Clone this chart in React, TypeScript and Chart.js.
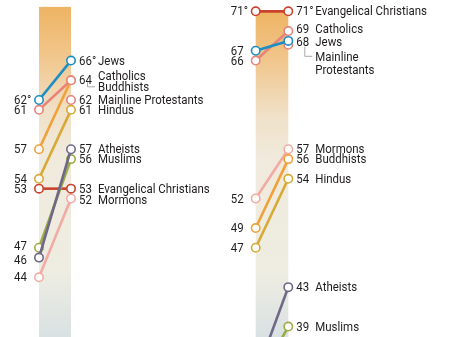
import React, { useEffect, useRef } from "react";
import { Chart, registerables } from "chart.js";

Chart.register(...registerables);

const YEARS = [2014, 2017];
const GROUPS = [
  "Jews",
  "Catholics",
  "Buddhists",
  "Mainline Protestants",
  "Hindus",
  "Atheists",
  "Muslims",
  "Evangelical Christians",
  "Mormons",
];
const COLORS = [
  "#1b8fc5",
  "#e8837b",
  "#f0a13a",
  "#e8837b",
  "#d6aa35",
  "#6f6788",
  "#9aab48",
  "#c9422d",
  "#f2aba3",
];
// Left panel
const DEM_2014: (number | null)[] = [62, 61, 57, null, 54, 46, 47, 53, 44];
const DEM_2017: (number | null)[] = [66, 64, 64, 62, 61, 57, 56, 53, 52];
// Right panel
const REP_2014: (number | null)[] = [67, 66, 49, null, 47, 34, 33, 71, 52];
const REP_2017: (number | null)[] = [68, 69, 56, 67.6, 54, 43, 39, 71, 57];

const Y_MIN = 37.94;
const Y_MAX = 72.15;
const FONT = "12.2px Roboto, 'Liberation Sans', sans-serif";
const TEXT_SX = 0.94;
const TEXT_DY = 1;
const TEXT = "#1f1c1d";

type Nudge = {
  dy?: number;
  nameDy?: number;
  hideValue?: boolean;
  lines?: string[];
  lineGap?: number;
  leader?: boolean;
};

type PanelCfg = {
  v14: (number | null)[];
  v17: (number | null)[];
  degree: string;
  bandTop: number;
  xMin: number;
  xMax: number;
  width: number;
  left: number;
  rightNudge: Record<string, Nudge>;
  leftNudge: Record<string, number>;
};

const PANELS: PanelCfg[] = [
  {
    v14: DEM_2014,
    v17: DEM_2017,
    degree: "Jews",
    bandTop: 71.45,
    xMin: 2014 - (39 * 3) / 32,
    xMax: 2014 - (39 * 3) / 32 + (227 * 3) / 32,
    width: 227,
    left: 0,
    rightNudge: {
      Catholics: { nameDy: -4 },
      Buddhists: { hideValue: true, nameDy: 7, leader: true },
      Mormons: { dy: 1 },
    },
    leftNudge: { Muslims: -2, Atheists: 2.5 },
  },
  {
    v14: REP_2014,
    v17: REP_2017,
    degree: "Evangelical Christians",
    bandTop: 71,
    xMin: 2014 - (28.7 * 3) / 32.6,
    xMax: 2014 - (28.7 * 3) / 32.6 + (228 * 3) / 32.6,
    width: 228,
    left: 227,
    rightNudge: {
      Catholics: { dy: -2 },
      Jews: { dy: 1 },
      "Mainline Protestants": {
        hideValue: true,
        nameDy: 12,
        lines: ["Mainline", "Protestants"],
        lineGap: 13,
        leader: true,
      },
    },
    leftNudge: { Catholics: 0.5 },
  },
];

function drawText(ctx: CanvasRenderingContext2D, s: string, x: number, y: number, align: CanvasTextAlign) {
  ctx.save();
  ctx.translate(x, y + TEXT_DY);
  ctx.scale(TEXT_SX, 1);
  ctx.textAlign = align;
  ctx.fillText(s, 0, 0);
  ctx.restore();
}

function Panel({ cfg }: { cfg: PanelCfg }) {
  const ref = useRef<HTMLCanvasElement | null>(null);
  useEffect(() => {
    if (!ref.current) return;
    const datasets = GROUPS.map((g, i) => {
      const pts: { x: number; y: number }[] = [];
      if (cfg.v14[i] != null) pts.push({ x: YEARS[0], y: cfg.v14[i] as number });
      if (cfg.v17[i] != null) pts.push({ x: YEARS[1], y: cfg.v17[i] as number });
      return {
        label: g,
        data: pts,
        borderColor: COLORS[i],
        backgroundColor: "#ffffff",
        pointBackgroundColor: "#ffffff",
        pointBorderColor: COLORS[i],
        pointBorderWidth: 1.6,
        pointRadius: 4.2,
        borderWidth: 2.6,
        tension: 0,
        clip: false,
      };
    });

    const plugin = {
      id: "slopeDeco",
      beforeDatasetsDraw(chart: any) {
        const ctx = chart.ctx;
        const xs = chart.scales.x;
        const ys = chart.scales.y;
        const x0 = xs.getPixelForValue(YEARS[0]);
        const x1 = xs.getPixelForValue(YEARS[1]);
        const top = ys.getPixelForValue(cfg.bandTop);
        const bottom = chart.height;
        const grad = ctx.createLinearGradient(0, top, 0, bottom);
        grad.addColorStop(0, "#eeb463");
        grad.addColorStop(0.15, "#f1c68c");
        grad.addColorStop(0.32, "#f0e1c8");
        grad.addColorStop(0.45, "#f0eadc");
        grad.addColorStop(0.8, "#eeede2");
        grad.addColorStop(1, "#d9e1e2");
        ctx.save();
        ctx.fillStyle = grad;
        ctx.fillRect(x0, top, x1 - x0, bottom - top);
        ctx.restore();
      },
      afterDatasetsDraw(chart: any) {
        const ctx = chart.ctx;
        const xs = chart.scales.x;
        const ys = chart.scales.y;
        const x0 = xs.getPixelForValue(YEARS[0]);
        const x1 = xs.getPixelForValue(YEARS[1]);
        ctx.save();
        ctx.font = FONT;
        ctx.fillStyle = TEXT;
        ctx.textBaseline = "middle";
        GROUPS.forEach((g, i) => {
          const deg = g === cfg.degree ? "°" : "";
          const a = cfg.v14[i];
          if (a != null) {
            const y = ys.getPixelForValue(a) + (cfg.leftNudge[g] || 0);
            drawText(ctx, String(Math.round(a)), x0 - 12, y, "right");
            if (deg) drawText(ctx, deg, x0 - 12, y, "left");
          }
          const b = cfg.v17[i];
          if (b != null) {
            const n = cfg.rightNudge[g] || {};
            const py = ys.getPixelForValue(b);
            const y = py + (n.dy || 0);
            if (!n.hideValue) drawText(ctx, String(Math.round(b)) + deg, x1 + 8, y, "left");
            const ny = y + (n.nameDy || 0);
            const lines = n.lines || [g];
            lines.forEach((ln, k) => {
              drawText(ctx, ln, x1 + 27, ny + k * (n.lineGap || 13), "left");
            });
            if (n.leader) {
              ctx.save();
              ctx.strokeStyle = "#a8a8a8";
              ctx.lineWidth = 1;
              ctx.beginPath();
              ctx.moveTo(x1 + 16.5, py + 2);
              ctx.lineTo(x1 + 16.5, ny - 0.5);
              ctx.lineTo(x1 + 24, ny - 0.5);
              ctx.stroke();
              ctx.restore();
            }
          }
        });
        ctx.restore();
      },
    };

    const chart = new Chart(ref.current, {
      type: "line",
      data: { datasets: datasets as any },
      options: {
        animation: false,
        responsive: false,
        maintainAspectRatio: false,
        devicePixelRatio: 1,
        layout: { padding: 0, autoPadding: false },
        plugins: { legend: { display: false }, tooltip: { enabled: false } },
        scales: {
          x: { type: "linear", min: cfg.xMin, max: cfg.xMax, display: false },
          y: { type: "linear", min: Y_MIN, max: Y_MAX, display: false },
        },
      },
      plugins: [plugin],
    });
    return () => chart.destroy();
  }, [cfg]);
  return (
    <canvas
      ref={ref}
      width={cfg.width}
      height={337}
      style={{ position: "absolute", left: cfg.left, top: 0, width: cfg.width, height: 337 }}
    />
  );
}

export default function App() {
  return (
    <div
      style={{
        position: "fixed",
        left: 0,
        top: 0,
        width: 455,
        height: 337,
        background: "#ffffff",
        overflow: "hidden",
      }}
    >
      {PANELS.map((p, i) => (
        <Panel key={i} cfg={p} />
      ))}
    </div>
  );
}
